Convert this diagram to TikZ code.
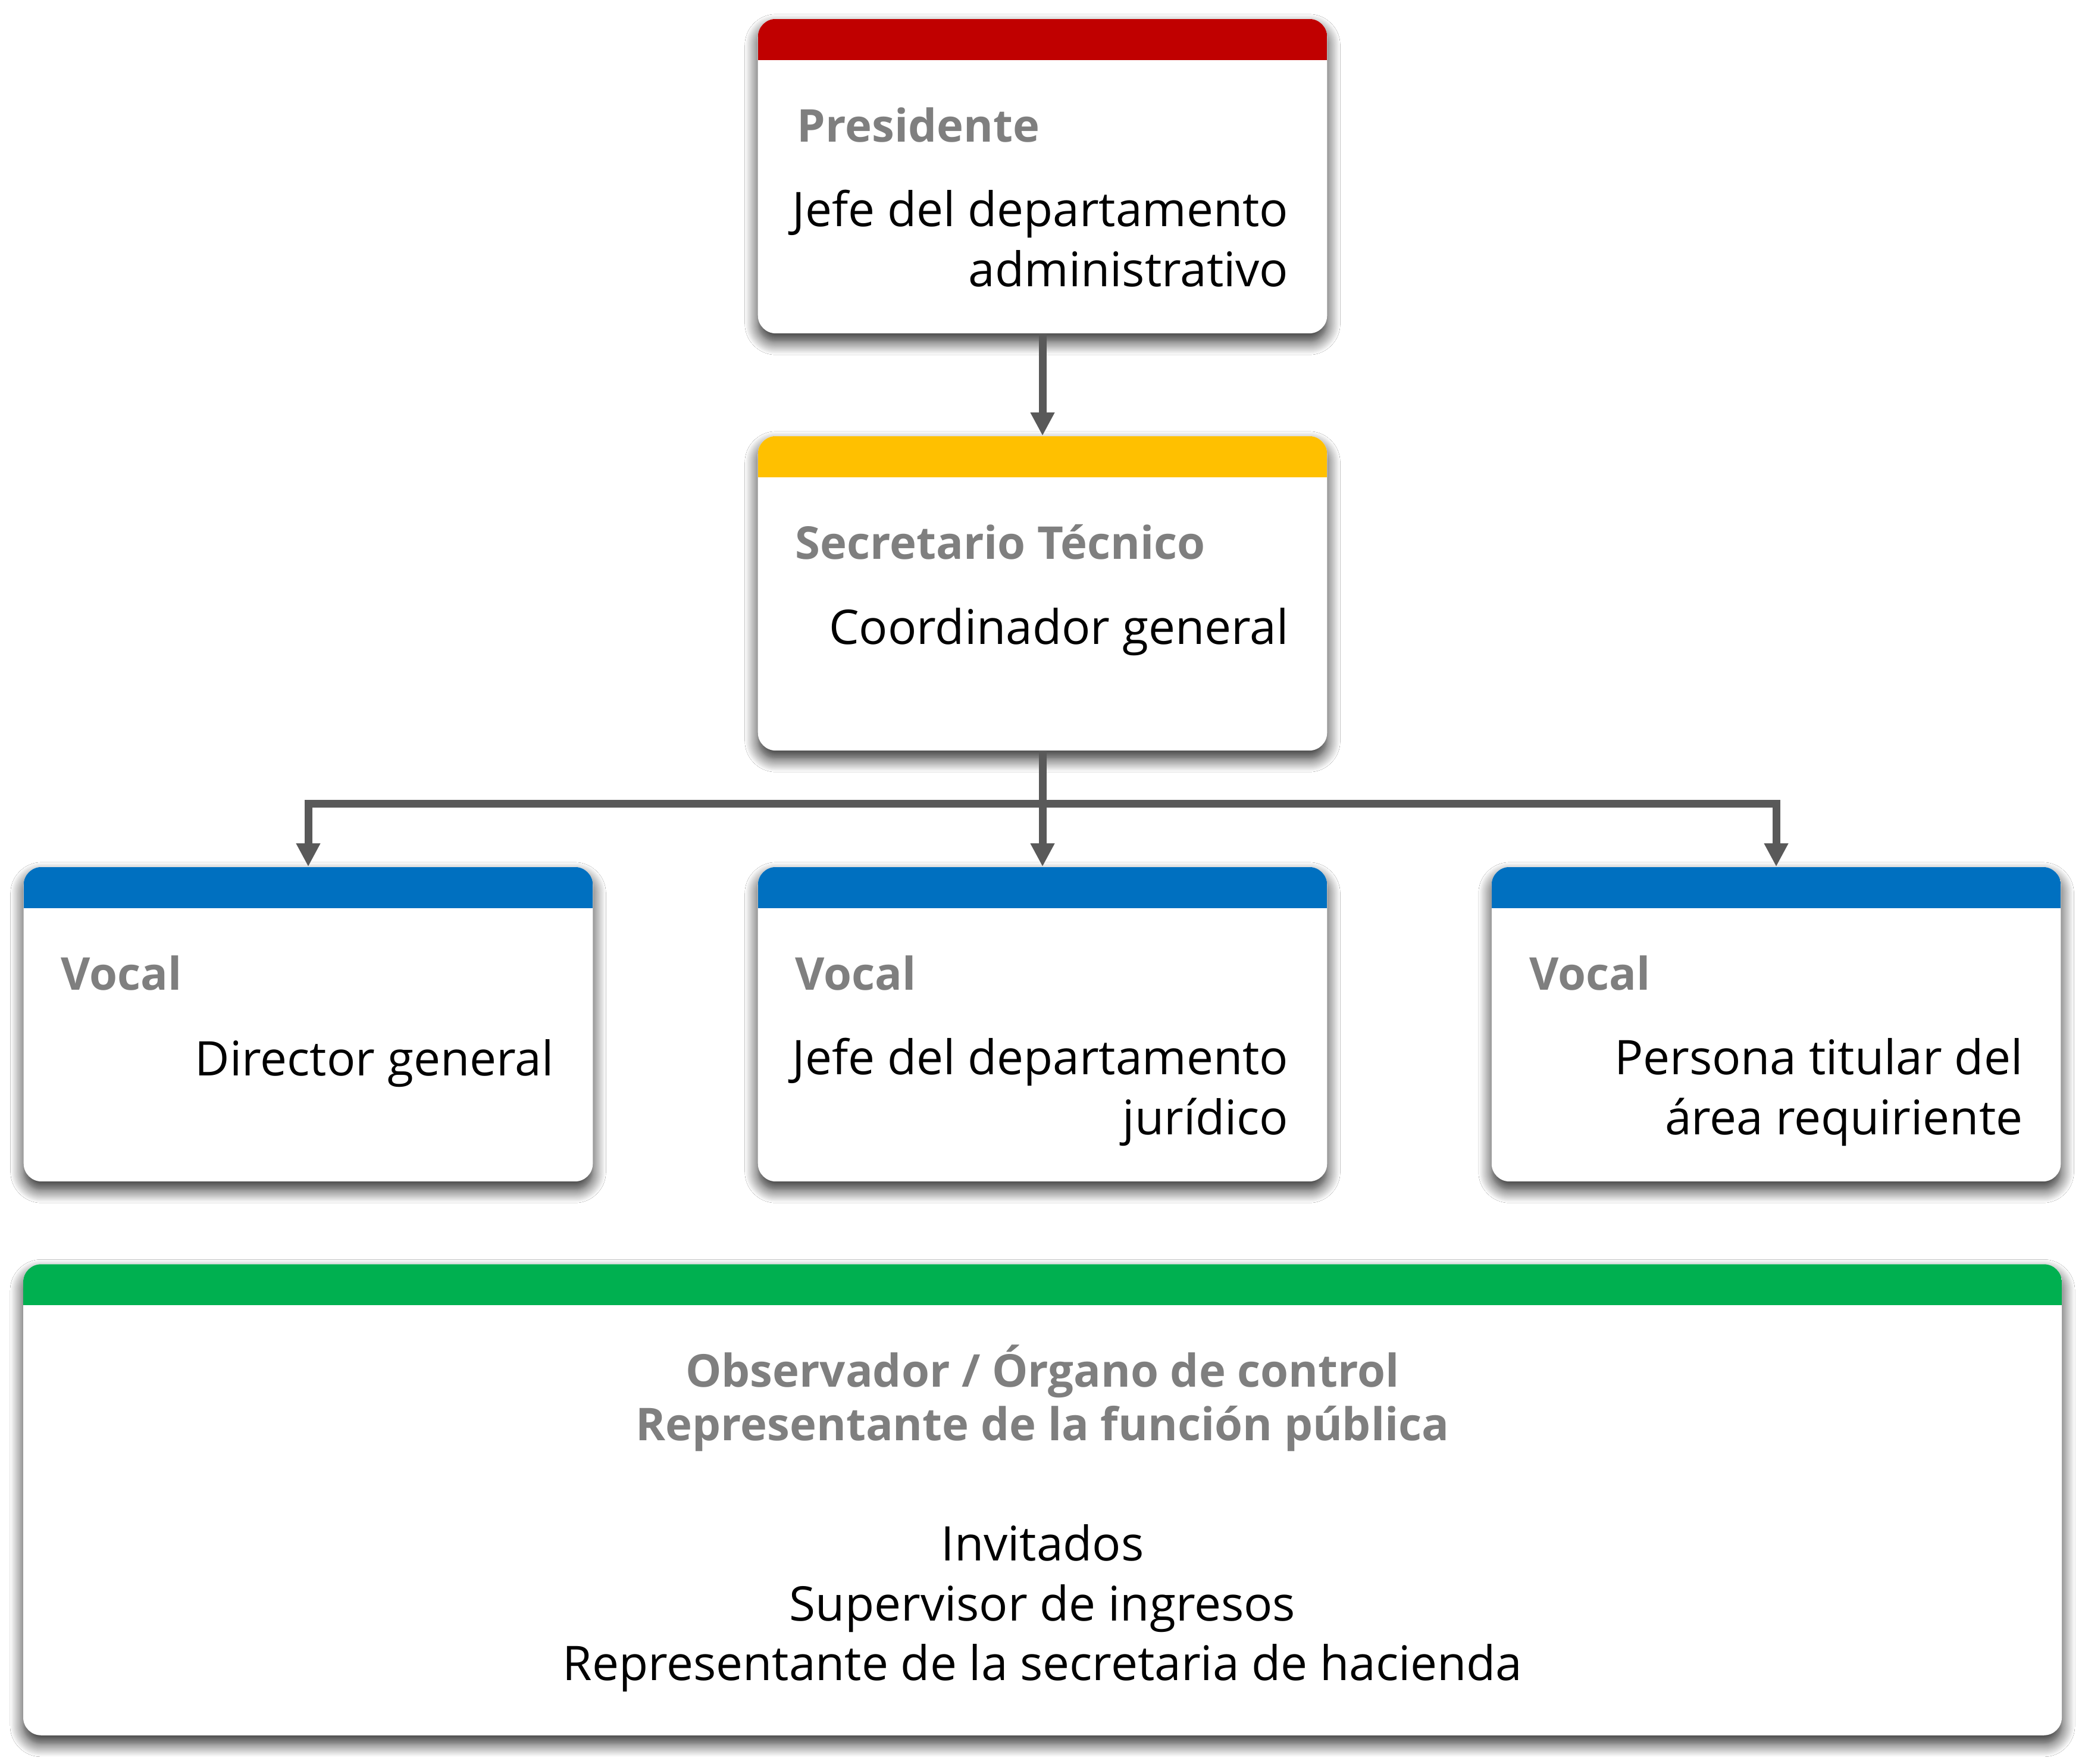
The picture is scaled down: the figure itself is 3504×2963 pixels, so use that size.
\documentclass[tikz,border=0pt]{standalone}
\usepackage{fontspec}
\setmainfont{Open Sans}
\usepackage{tikz}
\usetikzlibrary{arrows.meta, shadows.blur, positioning}

\definecolor{barred}{HTML}{C00000}
\definecolor{baryellow}{HTML}{FFC000}
\definecolor{barblue}{HTML}{0070C0}
\definecolor{bargreen}{HTML}{00B050}
\definecolor{titlegray}{HTML}{7F7F7F}
\definecolor{linkgray}{HTML}{595959}

\begin{document}
\begin{tikzpicture}[x=0.01cm, y=-0.01cm,
        card/.style={rectangle, rounded corners=0.3cm, fill=white, inner sep=0pt,
            minimum width=9.56cm, minimum height=5.28cm,
            blur shadow={shadow xshift=0cm, shadow yshift=-0.14cm, shadow blur radius=0.22cm, shadow blur steps=12, shadow opacity=85},
            path picture={\fill[#1, sharp corners] (path picture bounding box.north west) rectangle ([yshift=-0.69cm]path picture bounding box.north east);}},
        title/.style={font=\fontsize{21.6}{25.6}\selectfont\bfseries, text=titlegray, inner sep=0pt, align=center},
        body/.style={font=\fontsize{22.8}{28.45}\selectfont, inner sep=0pt, align=right},
        link/.style={draw=linkgray, line width=0.13cm, -{Triangle[length=0.39cm, width=0.38cm]}}]
    \useasboundingbox[fill=white] (0, 0) rectangle (3504, 2963);

    % boxes
    \node[card=barred] (pres) at (1752, 296) {};
    \node[card=baryellow] (sec) at (1752, 997) {};
    \node[card=barblue] (vocA) at (518, 1721) {};
    \node[card=barblue] (vocB) at (1752, 1721) {};
    \node[card=barblue] (vocC) at (2985, 1721) {};
    \node[card=bargreen, minimum width=34.24cm, minimum height=7.91cm] (obs) at (1752, 2520) {};

    % texts (base = last line)
    \node[title, anchor=base west] (presT) at (1339, 238) {Presidente};
    \node[body, anchor=base east] (presB) at (2166, 481) {Jefe del departamento\\administrativo};
    \node[title, anchor=base west] (secT) at (1336, 939) {Secretario Técnico};
    \node[body, anchor=base east] (secB) at (2166, 1082) {Coordinador general};
    \node[title, anchor=base west] (vocAT) at (102, 1663) {Vocal};
    \node[body, anchor=base east] (vocAB) at (931, 1807) {Director general};
    \node[title, anchor=base west] (vocBT) at (1336, 1663) {Vocal};
    \node[body, anchor=base east] (vocBB) at (2166, 1906) {Jefe del departamento\\jurídico};
    \node[title, anchor=base west] (vocCT) at (2570, 1663) {Vocal};
    \node[body, anchor=base east] (vocCB) at (3400, 1906) {Persona titular del\\área requiriente};
    \node[title, anchor=base] (obsT) at (1752, 2420) {Observador / Órgano de control\\Representante de la función pública};
    \node[body, align=center, anchor=base] (obsB) at (1752, 2823) {Invitados\\Supervisor de ingresos\\Representante de la secretaria de hacienda};

    % connectors
    \coordinate (bus) at (1752, 1350);
    \draw[link] (pres.south) -- (sec.north);
    \draw[link] (sec.south) -- (vocB.north);
    \draw[link] (bus) -| (vocA.north);
    \draw[link] (bus) -| (vocC.north);
\end{tikzpicture}
\end{document}
